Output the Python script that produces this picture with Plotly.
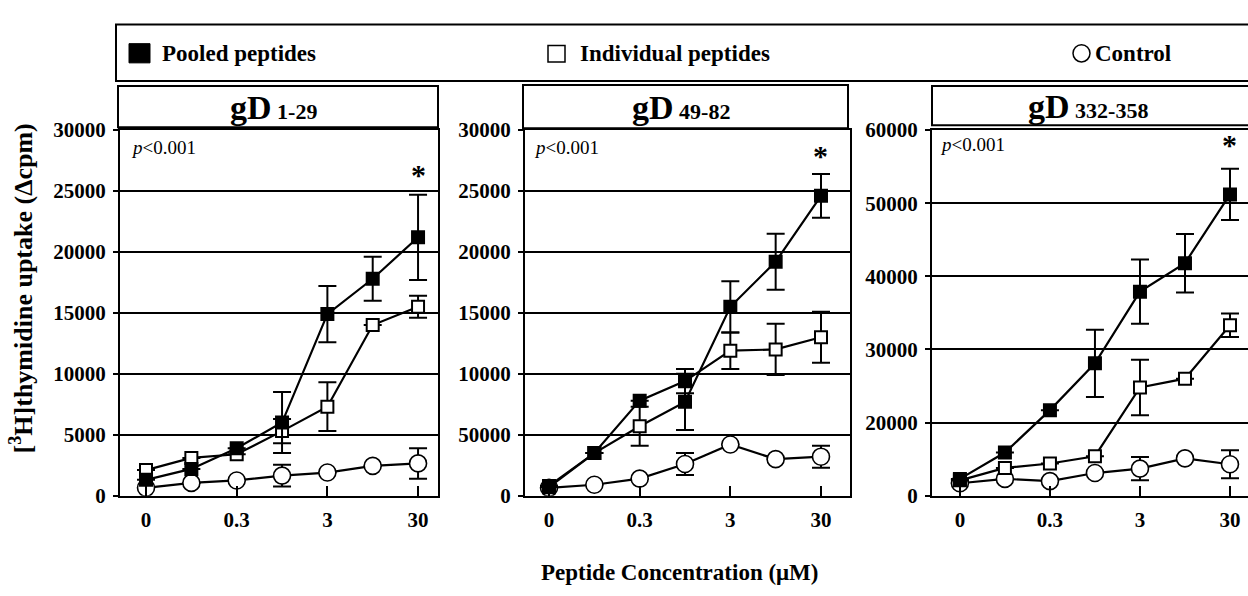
import plotly.graph_objects as go

W, H = 1248, 596

# ---------------- data ----------------
x_idx = [0, 1, 2, 3, 4, 5, 6]          # concentration steps (0 ... 30 uM)
x_tick_idx = [0, 2, 4, 6]
x_tick_text = ["0", "0.3", "3", "30"]

panel_names = ["1-29", "49-82", "332-358"]

# gD 1-29
pooled_1 = [1300, 2200, 3900, 6000, 14900, 17800, 21200]
pooled_err_1 = [None, None, None, 2500, 2300, 1800, 3500]
indiv_1 = [2100, 3100, 3400, 5300, 7300, 14000, 15500]
indiv_err_1 = [None, None, None, 1000, 2000, None, 900]
control_1 = [650, 1050, 1250, 1650, 1900, 2450, 2650]
control_err_1 = [None, None, None, 900, None, None, 1250]

# gD 49-82
pooled_2 = [800, 3500, 7800, 9400, 15500, 19200, 24600]
pooled_err_2 = [None, None, None, 1000, 2100, 2300, 1800]
indiv_2 = [700, 3500, 5700, 7700, 11900, 12000, 13000]
indiv_err_2 = [None, None, 1600, 2300, 1500, 2100, 2100]
control_2 = [650, 900, 1400, 2600, 4200, 3000, 3200]
control_err_2 = [None, None, None, 900, None, None, 900]

# gD 332-358 (axis position units; tick labels as printed)
pooled_3 = [2300, 5900, 11700, 18100, 27900, 31800, 41200]
pooled_err_3 = [None, None, None, 4600, 4400, 4000, 3500]
indiv_3 = [2100, 3800, 4400, 5400, 14800, 16000, 23300]
indiv_err_3 = [None, None, None, None, 3800, None, 1600]
control_3 = [1700, 2300, 2000, 3100, 3700, 5100, 4300]
control_err_3 = [None, None, None, None, 1600, None, 1900]

y_tickvals_1 = [0, 5000, 10000, 15000, 20000, 25000, 30000]
y_ticktext_1 = ["0", "5000", "10000", "15000", "20000", "25000", "30000"]
y_tickvals_2 = [0, 5000, 10000, 15000, 20000, 25000, 30000]
y_ticktext_2 = ["0", "50000", "10000", "15000", "20000", "25000", "30000"]
y_tickvals_3 = [0, 10000, 20000, 30000, 40000, 50000]
y_ticktext_3 = ["0", "20000", "30000", "40000", "50000", "60000"]

legend_labels = ["Pooled peptides", "Individual peptides", "Control"]

# ---------------- layout helpers ----------------
def fx(px):
    return px / W

def fy(py):
    return 1 - py / H

FONT = "Liberation Serif"
PLOT_TOP, PLOT_BOTTOM = 123, 504

panels = [
    dict(pooled=pooled_1, perr=pooled_err_1, indiv=indiv_1, ierr=indiv_err_1,
         ctrl=control_1, cerr=control_err_1, switch=None,
         indiv_fill=["white"] * 7,
         left=120, right=438, xr=[-0.574, 6.44], yr=[0, 30000],
         tv=y_tickvals_1, tt=y_ticktext_1, mirror=True,
         box=(118, 77, 438, 120), tcx=273, pcx=129, pcy=141, star_shift=16),
    dict(pooled=pooled_2, perr=pooled_err_2, indiv=indiv_2, ierr=indiv_err_2,
         ctrl=control_2, cerr=control_err_2, switch=4,
         indiv_fill=["white", "white", "white", "black", "white", "white", "white"],
         left=525, right=850, xr=[-0.53, 6.64], yr=[0, 30000],
         tv=y_tickvals_2, tt=y_ticktext_2, mirror=True,
         box=(523, 76, 848, 121), tcx=681, pcx=532, pcy=141, star_shift=14),
    dict(pooled=pooled_3, perr=pooled_err_3, indiv=indiv_3, ierr=indiv_err_3,
         ctrl=control_3, cerr=control_err_3, switch=None,
         indiv_fill=["white"] * 7,
         left=932, right=1248, xr=[-0.62, 6.4], yr=[0, 50000],
         tv=y_tickvals_3, tt=y_ticktext_3, mirror=False,
         box=(932, 77, 1252, 118), tcx=1088, pcx=938, pcy=138, star_shift=20),
]

fig = go.Figure()
shapes = []
annotations = []

for i, p in enumerate(panels, start=1):
    xa = "x" if i == 1 else f"x{i}"
    ya = "y" if i == 1 else f"y{i}"
    # connecting lines (as printed)
    if p["switch"] is None:
        path_a, path_b = p["pooled"], p["indiv"]
    else:
        k = p["switch"]
        path_a = p["pooled"][:k] + p["indiv"][k:]
        path_b = p["indiv"][:k] + p["pooled"][k:]
    for yy in (p["ctrl"], path_b, path_a):
        fig.add_trace(go.Scatter(x=x_idx, y=yy, mode="lines", xaxis=xa, yaxis=ya,
                                 line=dict(color="black", width=2.2), hoverinfo="skip"))
    eb = dict(type="data", visible=True, color="black", thickness=2, width=9)
    fig.add_trace(go.Scatter(x=x_idx, y=p["ctrl"], mode="markers", xaxis=xa, yaxis=ya,
                             error_y=dict(array=p["cerr"], **eb),
                             marker=dict(symbol="circle", size=17, color="white",
                                         line=dict(color="black", width=1.6))))
    fig.add_trace(go.Scatter(x=x_idx, y=p["indiv"], mode="markers", xaxis=xa, yaxis=ya,
                             error_y=dict(array=p["ierr"], **eb),
                             marker=dict(symbol="square", size=12, color=p["indiv_fill"],
                                         line=dict(color="black", width=2))))
    fig.add_trace(go.Scatter(x=x_idx, y=p["pooled"], mode="markers", xaxis=xa, yaxis=ya,
                             error_y=dict(array=p["perr"], **eb),
                             marker=dict(symbol="square", size=14, color="black",
                                         line=dict(color="black", width=0))))

    axfont = dict(family=FONT, size=21, color="black", weight="bold")
    fig.layout[f"xaxis{'' if i == 1 else i}"] = dict(
        domain=[fx(p["left"]), fx(p["right"])], range=p["xr"], anchor=ya,
        tickvals=x_tick_idx, ticktext=x_tick_text, ticks="inside", ticklen=10,
        tickwidth=1.5, tickcolor="black", showline=True, linewidth=2, linecolor="black",
        mirror=True, showgrid=False, zeroline=False, tickfont=axfont, ticklabelstandoff=4)
    fig.layout[f"yaxis{'' if i == 1 else i}"] = dict(
        domain=[fy(PLOT_BOTTOM), fy(PLOT_TOP)], range=p["yr"], anchor=xa,
        tickvals=p["tv"], ticktext=p["tt"], ticks="outside", ticklen=5,
        tickwidth=1.5, tickcolor="black", showline=True, linewidth=2, linecolor="black",
        mirror=p["mirror"], showgrid=True, gridcolor="black", gridwidth=1.8,
        zeroline=False, tickfont=axfont, ticklabelstandoff=3)

    # title box
    x0, y0, x1, y1 = p["box"]
    shapes.append(dict(type="rect", xref="paper", yref="paper", x0=fx(x0), x1=fx(x1),
                       y0=fy(y1), y1=fy(y0), line=dict(color="black", width=2)))
    annotations.append(dict(
        xref="paper", yref="paper", x=fx(p["tcx"]), y=fy((y0 + y1) / 2 + 1),
        xanchor="center", yanchor="middle", showarrow=False,
        text=f"gD<span style='font-size:22px'> {panel_names[i - 1]}</span>",
        font=dict(family=FONT, size=34, color="black", weight="bold")))
    # p value
    annotations.append(dict(
        xref="paper", yref="paper", x=fx(p["pcx"]), y=fy(p["pcy"]),
        xanchor="left", yanchor="middle", showarrow=False,
        text="<i>p</i>&lt;0.001", font=dict(family=FONT, size=19, color="black")))
    # significance star above last pooled point
    annotations.append(dict(
        xref=xa, yref=ya, x=x_idx[-1], y=p["pooled"][-1] + p["perr"][-1],
        xanchor="center", yanchor="bottom", yshift=p["star_shift"] - 14, showarrow=False,
        text="*", font=dict(family=FONT, size=30, color="black", weight="bold")))

# legend box
shapes.append(dict(type="rect", xref="paper", yref="paper", x0=fx(116), x1=fx(1252),
                   y0=fy(72), y1=fy(13), line=dict(color="black", width=2)))
shapes.append(dict(type="rect", xref="paper", yref="paper", x0=fx(129), x1=fx(150),
                   y0=fy(53), y1=fy(33), fillcolor="black", line=dict(color="black", width=1)))
shapes.append(dict(type="rect", xref="paper", yref="paper", x0=fx(548), x1=fx(565),
                   y0=fy(52), y1=fy(35), fillcolor="white", line=dict(color="black", width=1.5)))
shapes.append(dict(type="circle", xref="paper", yref="paper", x0=fx(1073), x1=fx(1090),
                   y0=fy(52), y1=fy(34), fillcolor="white", line=dict(color="black", width=1.5)))
for lab, lx in zip(legend_labels, [160, 578, 1093]):
    annotations.append(dict(xref="paper", yref="paper", x=fx(lx), y=fy(43),
                            xanchor="left", yanchor="middle", showarrow=False, text=lab,
                            font=dict(family=FONT, size=23, color="black", weight="bold")))

# axis titles
annotations.append(dict(xref="paper", yref="paper", x=fx(21), y=fy(288),
                        xanchor="center", yanchor="middle", showarrow=False, textangle=-90,
                        text="[<sup>3</sup>H]thymidine uptake (Δcpm)",
                        font=dict(family=FONT, size=26, color="black", weight="bold")))
annotations.append(dict(xref="paper", yref="paper", x=fx(680), y=fy(584),
                        xanchor="center", yanchor="middle", showarrow=False,
                        text="Peptide Concentration (μM)",
                        font=dict(family=FONT, size=23, color="black", weight="bold")))

fig.update_layout(width=W, height=H, margin=dict(l=0, r=0, t=0, b=0),
                  showlegend=False, plot_bgcolor="white", paper_bgcolor="white",
                  font=dict(family=FONT, color="black"),
                  shapes=shapes, annotations=annotations)

fig.write_html("out.html")
